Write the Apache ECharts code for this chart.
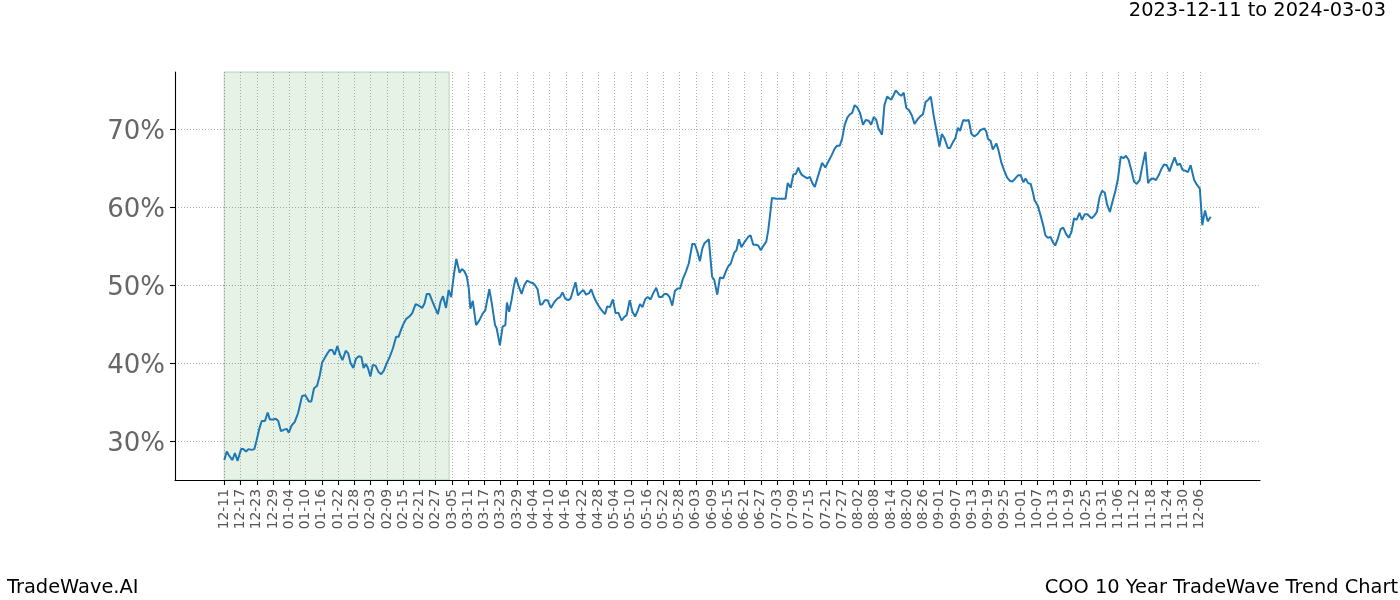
<!DOCTYPE html>
<html>
<head>
<meta charset="utf-8">
<script src="https://cdn.jsdelivr.net/npm/echarts@6/dist/echarts.min.js"></script>
<style>
html,body{margin:0;padding:0;background:#fff;}
#chart{width:1400px;height:600px;}
</style>
</head>
<body>
<div id="chart"></div>
<script>
// ---- data (x = days since 2023-12-11, y = percent) ----
const tickLabels = ['12-11','12-17','12-23','12-29','01-04','01-10','01-16','01-22','01-28','02-03','02-09','02-15','02-21','02-27','03-05','03-11','03-17','03-23','03-29','04-04','04-10','04-16','04-22','04-28','05-04','05-10','05-16','05-22','05-28','06-03','06-09','06-15','06-21','06-27','07-03','07-09','07-15','07-21','07-27','08-02','08-08','08-14','08-20','08-26','09-01','09-07','09-13','09-19','09-25','10-01','10-07','10-13','10-19','10-25','10-31','11-06','11-12','11-18','11-24','11-30','12-06'];
const yTicks = [30, 40, 50, 60, 70];
const shadeRange = [0, 83];
const titleText = '2023-12-11 to 2024-03-03';
const footLeft = 'TradeWave.AI';
const footRight = 'COO 10 Year TradeWave Trend Chart';

const days = [0,0.9,1.7,3.0,3.9,4.9,6.2,7.0,8.0,8.9,10.1,11.1,11.9,12.9,13.8,15.0,16.0,16.8,18.1,19.0,19.9,20.9,22.1,23.0,23.8,24.8,26.0,27.2,28.7,29.9,31.2,32.1,33.1,34.2,35.2,
36.1,37.1,38.1,38.9,39.9,40.7,41.7,42.7,43.6,44.8,45.7,46.6,47.6,48.6,49.6,50.6,51.4,52.2,53.0,53.9,54.8,55.8,56.9,57.9,58.9,59.9,61.0,62.2,63.4,64.3,65.0,65.9,67.1,
68.3,69.3,70.6,71.8,73.0,73.9,74.7,75.7,76.7,77.8,78.8,79.8,80.7,81.8,82.8,83.7,84.7,85.6,86.8,87.7,88.6,89.5,90.2,90.8,91.7,92.9,94.1,95.4,96.3,96.8,97.8,98.8,99.9,100.5,101.7,102.7,103.7,
104.3,105.1,106.0,106.8,107.6,108.6,109.7,110.7,111.7,112.8,113.8,114.7,115.6,116.6,117.4,118.3,119.3,120.5,121.7,122.9,123.9,124.8,125.8,126.9,127.8,128.8,129.6,130.5,131.5,132.5,133.5,134.6,135.4,136.4,137.4,138.6,
139.3,140.5,141.3,142.3,143.4,144.4,145.4,146.6,147.5,148.5,149.6,150.6,151.6,152.6,153.4,154.3,155.3,156.2,157.3,158.3,159.4,160.4,161.4,162.4,163.3,164.3,165.3,166.3,167.3,168.2,169.2,170.4,171.4,172.7,173.6,174.5,175.5,176.4,177.2,
178.8,180.0,180.8,181.9,182.9,184.1,185.1,185.9,186.9,188.2,189.0,189.9,190.8,192.1,193.3,194.2,195.2,196.1,197.0,198.0,198.8,200.0,200.7,201.3,202.1,203.8,205.7,207.1,207.9,209.0,210.0,210.9,211.8,212.4,
213.0,214.2,215.2,216.1,217.0,217.9,219.1,220.6,221.8,222.8,224.0,225.2,226.1,227.1,228.0,228.9,229.9,230.8,231.7,232.6,233.6,234.6,235.7,236.7,237.8,238.7,239.7,240.6,241.4,242.7,243.6,244.6,246.1,
247.0,247.8,249.0,249.8,250.7,251.7,252.6,253.7,254.7,255.9,256.9,257.8,258.8,259.8,260.7,261.8,263.0,263.9,264.8,265.7,267.0,267.8,268.8,269.8,270.7,271.5,272.7,273.7,274.7,275.7,276.8,278.0,279.0,280.5,
281.2,281.8,282.8,283.6,284.9,285.7,286.7,287.7,288.9,289.9,290.8,291.9,292.9,293.9,294.9,295.7,296.6,297.6,298.4,299.0,300.2,301.2,302.2,303.0,303.9,304.9,305.8,306.6,307.6,308.6,309.6,310.6,311.6,312.6,313.6,314.5,315.6,316.5,317.5,
318.5,320.0,321.0,322.0,323.0,323.9,324.9,325.8,326.8,327.9,328.9,329.8,330.8,331.8,332.7,333.7,334.7,335.7,336.7,337.8,338.9,339.9,340.9,341.8,342.8,343.8,344.8,345.8,346.8,347.8,348.8,349.8,350.7,351.7,352.7,353.6,354.6,355.6,356.6,357.9,358.9,360.0,360.9,361.9,362.9,364.0];

const values = [27.6,28.7,28.2,27.6,28.5,27.5,29.0,29.0,28.7,29.0,28.9,29.0,30.1,31.6,32.6,32.6,33.7,32.8,32.8,32.9,32.6,31.3,31.5,31.6,31.1,32.0,32.5,33.6,35.8,35.9,35.1,35.1,36.8,37.1,38.4,
40.1,40.7,41.3,41.7,41.7,41.1,42.2,41.1,40.4,41.6,41.3,40.0,39.4,40.6,40.9,40.8,39.4,39.9,39.4,38.3,39.8,39.7,38.9,38.6,39.1,40.0,40.8,41.9,43.4,43.4,44.1,44.9,45.7,
46.0,46.4,47.6,47.4,47.1,47.7,48.9,48.9,48.0,47.1,46.3,47.9,48.6,47.1,49.4,48.5,51.3,53.4,51.6,52.1,51.8,51.1,49.6,47.0,48.0,44.9,45.5,46.4,46.8,46.6,49.5,47.5,44.9,44.5,42.3,44.7,44.9,
47.8,46.6,48.1,49.8,51.0,49.9,48.9,50.0,50.6,50.4,50.3,50.0,49.5,47.5,47.6,48.1,48.1,47.1,47.8,48.3,48.5,49.1,48.3,48.1,48.3,49.5,50.4,48.7,49.1,49.4,48.8,49.0,49.5,48.5,47.8,47.1,
46.8,46.3,47.3,47.2,48.2,46.4,46.5,45.5,45.9,46.2,48.1,46.6,46.0,46.8,47.6,47.2,48.2,48.5,48.2,49.0,49.7,48.5,48.5,48.9,48.9,48.5,47.4,49.3,49.6,49.6,50.8,51.8,52.8,55.3,55.3,54.4,53.1,54.7,55.4,
55.9,51.1,50.7,48.8,51.0,50.9,51.8,52.4,52.8,54.2,54.5,55.9,54.9,55.6,56.2,56.4,55.2,55.2,55.1,54.5,55.0,55.6,57.0,58.7,61.2,61.1,61.1,61.1,63.1,62.5,64.2,64.3,65.1,64.6,
64.2,63.9,63.7,63.9,63.1,62.6,64.0,65.7,65.1,65.8,66.6,67.5,67.9,67.9,68.8,70.5,71.5,71.9,72.1,73.1,72.8,72.1,70.6,71.2,71.1,70.6,71.6,71.2,70.1,69.3,73.1,74.2,73.8,
74.4,75.0,74.5,74.3,74.7,72.7,72.5,71.8,70.7,71.3,71.7,71.9,73.5,73.8,74.2,71.7,69.5,67.8,69.4,68.9,67.6,67.6,68.3,68.9,70.2,69.8,71.2,71.1,71.2,69.4,69.1,69.4,69.9,70.1,
69.7,68.8,68.5,67.4,68.2,67.3,65.8,64.8,63.8,63.4,63.3,63.7,64.1,64.1,63.2,63.7,63.1,63.0,61.9,60.9,60.2,59.0,57.7,56.4,56.1,56.2,55.5,55.1,56.0,57.2,57.4,56.6,56.1,56.8,58.6,58.4,59.3,58.4,59.1,
59.1,58.6,58.9,59.4,61.3,62.1,61.9,60.3,59.4,60.9,62.2,63.7,66.5,66.3,66.6,66.1,64.8,63.3,63.0,63.5,65.5,67.1,63.1,63.6,63.7,63.5,64.1,64.9,65.5,65.4,64.6,65.6,66.4,65.4,65.6,64.8,64.7,64.5,65.4,63.5,62.9,62.4,57.7,59.6,58.2,58.8];

// ---- chart ----
const FONT = 'DejaVu Sans';
const tickDays = tickLabels.map((_, i) => i * 6);
const lineData = days.map((d, i) => [d, values[i]]);
const gridLine = { show: true, lineStyle: { type: [1, 2], color: '#a0a0a0', width: 0.8 } };

const chart = echarts.init(document.getElementById('chart'), null, { renderer: 'canvas' });
chart.setOption({
  animation: false,
  backgroundColor: '#ffffff',
  textStyle: { fontFamily: FONT },
  title: [
    { text: titleText, right: 14, top: 1, padding: 0,
      textStyle: { fontFamily: FONT, fontSize: 19.4, fontWeight: 'normal', color: '#000' } },
    { text: footLeft, left: 7, top: 578, padding: 0,
      textStyle: { fontFamily: FONT, fontSize: 19.4, fontWeight: 'normal', color: '#000' } },
    { text: footRight, right: 2, top: 578, padding: 0,
      textStyle: { fontFamily: FONT, fontSize: 19.4, fontWeight: 'normal', color: '#000' } }
  ],
  grid: { left: 175, right: 140, top: 72, bottom: 120, containLabel: false },
  xAxis: {
    type: 'value', min: -18.2, max: 382.2,
    axisLine: { show: true, onZero: false, lineStyle: { color: '#000', width: 1.1 } },
    axisTick: { show: true, customValues: tickDays, length: 5, lineStyle: { color: '#000', width: 1.1 } },
    axisLabel: { show: true, customValues: tickDays, rotate: 90, margin: 9,
      formatter: v => tickLabels[Math.round(v / 6)] || '',
      fontFamily: FONT, fontSize: 13.9, color: '#555' },
    splitLine: gridLine
  },
  yAxis: {
    type: 'value', min: 25.04, max: 77.35,
    axisLine: { show: true, onZero: false, lineStyle: { color: '#000', width: 1.1 } },
    axisTick: { show: true, customValues: yTicks, length: 5, lineStyle: { color: '#000', width: 1.1 } },
    axisLabel: { show: true, customValues: yTicks, margin: 10,
      formatter: v => '{p|' + v + '%}',
      rich: { p: { fontFamily: FONT, fontSize: 26, color: '#666', padding: [6, 0, 0, 0] } },
      fontFamily: FONT, fontSize: 26, color: '#666' },
    splitLine: gridLine
  },
  series: [{
    type: 'line',
    data: lineData,
    showSymbol: false,
    lineStyle: { color: '#1f77b4', width: 2 },
    z: 3,
    markArea: {
      silent: true,
      itemStyle: { color: 'rgba(0,128,0,0.1)', borderColor: 'rgba(0,80,0,0.15)', borderWidth: 1.5 },
      data: [[{ xAxis: shadeRange[0] }, { xAxis: shadeRange[1] }]]
    }
  }]
});
</script>
</body>
</html>
